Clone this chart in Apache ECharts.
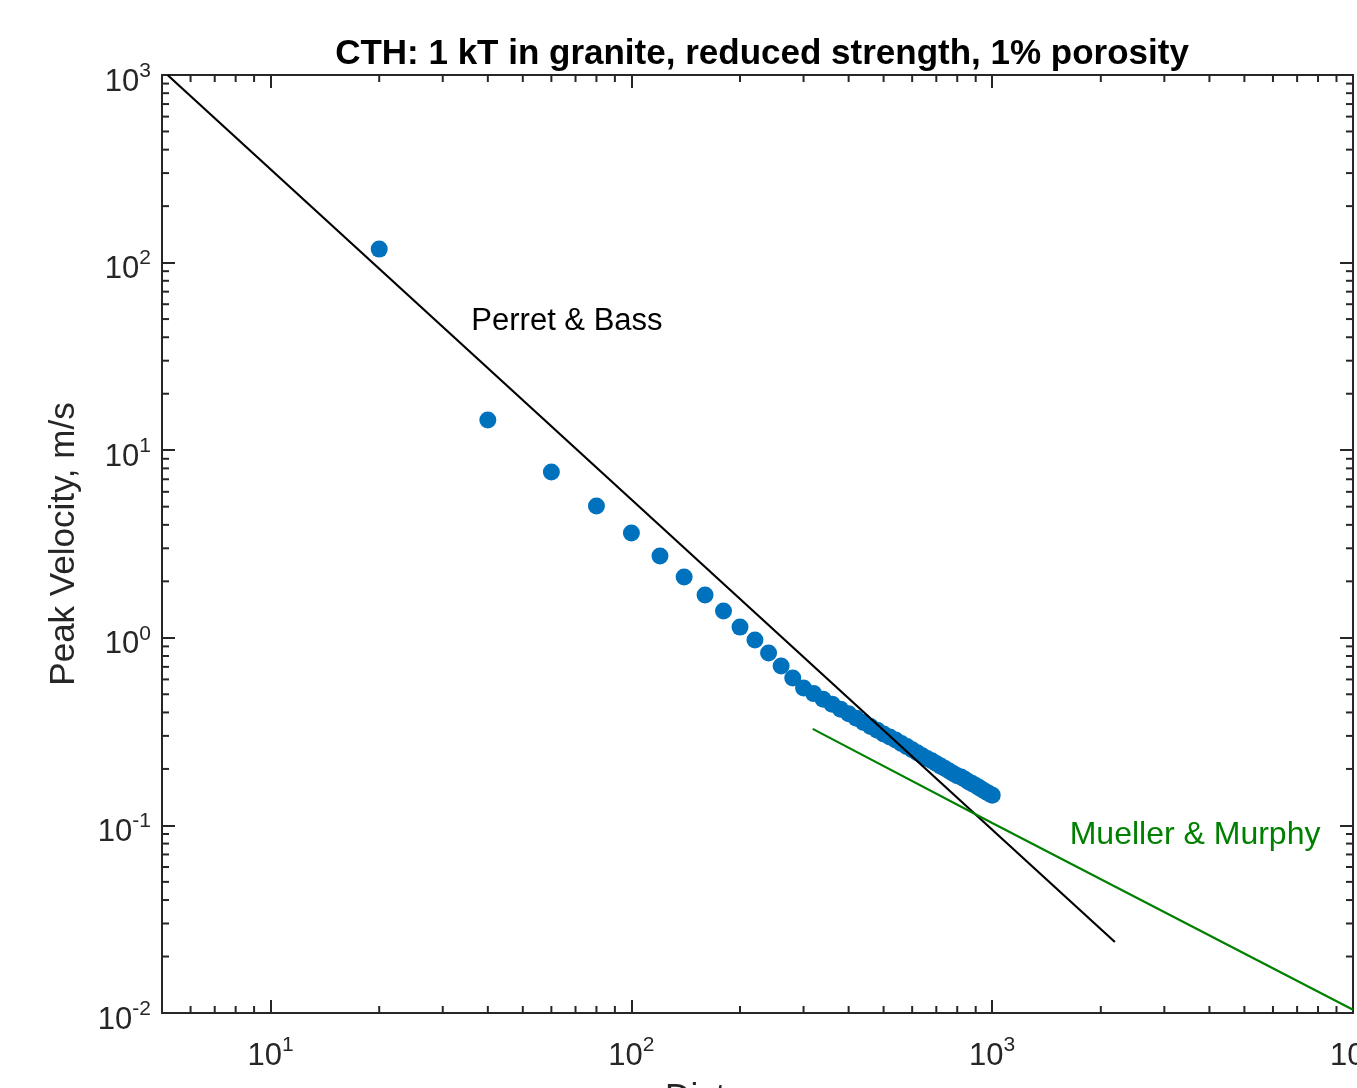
<!DOCTYPE html>
<html><head><meta charset="utf-8">
<script src="https://cdn.jsdelivr.net/npm/echarts@6/dist/echarts.min.js"></script>
<style>html,body{margin:0;padding:0;background:#fff}#c{width:1357px;height:1088px}</style>
</head><body><div id="c"></div>
<script>
// ---- data ----
const distances = [20,40,60,80,100,120,140,160,180,200,220,240,260,280,300,
  320,340,360,380,400,420,440,460,480,500,520,540,560,580,600,620,640,660,680,700,
  720,740,760,780,800,820,840,860,880,900,920,940,960,980,1000];
const peakVelocity = [118,14.5,7.65,5.04,3.62,2.73,2.11,1.69,1.39,1.14,0.973,0.830,0.708,0.611,0.540,
  0.504,0.471,0.443,0.416,0.394,0.373,0.354,0.337,0.322,0.307,0.296,0.285,0.273,0.263,0.253,0.244,0.235,0.227,0.221,0.214,
  0.207,0.201,0.195,0.189,0.184,0.181,0.176,0.171,0.167,0.163,0.159,0.155,0.151,0.148,0.145];
const perretBassX = [5.18, 2188];
const perretBassY = [1000, 0.0239];
const muellerMurphyX = [318, 1000, 10000];
const muellerMurphyY = [0.327, 0.103, 0.0104];
const xRange = [5, 10000];
const yRange = [0.01, 1000];
const minorMultipliers = [2,3,4,5,6,7,8,9];
const xDecades = [1,10,100,1000];
const yDecades = [0.01,0.1,1,10,100];
const annotationTexts = ['Perret & Bass', 'Mueller & Murphy'];
const annotationX = [36, 1640];
const annotationY = [48.5, 0.0885];
const titleText = 'CTH: 1 kT in granite, reduced strength, 1% porosity';
const yName = 'Peak Velocity, m/s';
const xName = 'Distance, m';

// ---- build ----
const FONT = '"Liberation Sans", Arial, Helvetica, sans-serif';
const AX = '#262626';
const GREEN = '#008000';
const annotationColors = ['#000000', GREEN];
const pts = distances.map((d, i) => [d, peakVelocity[i]]);
const pb = perretBassX.map((x, i) => [x, perretBassY[i]]);
const mm = muellerMurphyX.map((x, i) => [x, muellerMurphyY[i]]);
const annData = annotationX.map((x, i) => [x, annotationY[i], i]);

const xMinor = [], yMinor = [];
xDecades.forEach(d => minorMultipliers.forEach(m => { const v = m * d; if (v > xRange[0] && v < xRange[1]) xMinor.push(v); }));
yDecades.forEach(d => minorMultipliers.forEach(m => yMinor.push(+(m * d).toPrecision(3))));
const minorData = xMinor.map(v => [v, 1, 0]).concat(yMinor.map(v => [10, v, 1]));

function powLabel(v) {
  const l = Math.log10(v), e = Math.round(l);
  if (Math.abs(l - e) > 1e-6) return '';
  return '{b|10}{s|' + e + '}';
}
const rich = {
  b: {fontSize: 31, fontFamily: FONT, color: AX, padding: [14, 0, 0, 0]},
  s: {fontSize: 21, fontFamily: FONT, color: AX, padding: [8, 0, 0, 0], verticalAlign: 'top'}
};
const axLine = {show: true, lineStyle: {color: AX, width: 2}};
const axTick = {show: true, inside: true, length: 13, lineStyle: {color: AX, width: 2}};

const chart = echarts.init(document.getElementById('c'), null, {renderer: 'canvas'});
chart.setOption({
  animation: false,
  backgroundColor: '#fff',
  title: {
    text: titleText, left: 757, top: 32, textAlign: 'center',
    textStyle: {fontFamily: FONT, fontWeight: 'bold', fontSize: 35, color: '#000'}
  },
  grid: {left: 162, right: 4, top: 75, bottom: 75, containLabel: false, outerBoundsMode: 'none'},
  xAxis: [
    {type: 'log', logBase: 10, min: xRange[0], max: xRange[1], position: 'bottom',
     axisLine: axLine, axisTick: axTick, splitLine: {show: false},
     axisLabel: {formatter: powLabel, rich: rich, margin: 14, showMaxLabel: true, showMinLabel: true},
     name: xName, nameLocation: 'middle', nameGap: 68,
     nameTextStyle: {fontFamily: FONT, fontSize: 35, color: AX}},
    {type: 'log', logBase: 10, min: xRange[0], max: xRange[1], position: 'top',
     axisLine: axLine, axisTick: axTick, splitLine: {show: false}, axisLabel: {show: false}}
  ],
  yAxis: [
    {type: 'log', logBase: 10, min: yRange[0], max: yRange[1], position: 'left',
     axisLine: axLine, axisTick: axTick, splitLine: {show: false},
     axisLabel: {formatter: powLabel, rich: rich, margin: 11, showMaxLabel: true, showMinLabel: true},
     name: yName, nameLocation: 'middle', nameGap: 80, nameRotate: 90,
     nameTextStyle: {fontFamily: FONT, fontSize: 35, color: AX}},
    {type: 'log', logBase: 10, min: yRange[0], max: yRange[1], position: 'right',
     axisLine: axLine, axisTick: axTick, splitLine: {show: false}, axisLabel: {show: false}}
  ],
  series: [
    {type: 'scatter', data: pts, symbol: 'circle', symbolSize: 17,
     itemStyle: {color: '#0072BD', opacity: 1}, z: 2},
    {type: 'line', data: pb, symbol: 'none', lineStyle: {color: '#000', width: 2.2}, z: 3, clip: true},
    {type: 'line', data: mm, symbol: 'none', lineStyle: {color: GREEN, width: 2.2}, z: 3, clip: true},
    {type: 'custom', data: annData, dimensions: ['x', 'y', 'i'], encode: {x: 0, y: 1},
     clip: false, silent: true, z: 6,
     renderItem: function (params, api) {
       const i = api.value(2);
       const p = api.coord([api.value(0), api.value(1)]);
       return {type: 'text', x: p[0], y: p[1], style: {
         text: annotationTexts[i], fill: annotationColors[i],
         fontFamily: FONT, fontSize: i === 0 ? 31 : 32, align: 'left', verticalAlign: 'middle'}};
     }},
    {type: 'custom', data: minorData, dimensions: ['x', 'y', 'k'], encode: {x: 0, y: 1},
     clip: false, silent: true, z: 5,
     renderItem: function (params, api) {
       const k = api.value(2);
       const st = {stroke: AX, lineWidth: 2};
       const L = 7;
       if (k === 0) {
         const v = api.value(0);
         const b = api.coord([v, yRange[0]]), t = api.coord([v, yRange[1]]);
         return {type: 'group', children: [
           {type: 'line', shape: {x1: b[0], y1: b[1], x2: b[0], y2: b[1] - L}, style: st},
           {type: 'line', shape: {x1: t[0], y1: t[1], x2: t[0], y2: t[1] + L}, style: st}
         ]};
       } else {
         const v = api.value(1);
         const l = api.coord([xRange[0], v]), r = api.coord([xRange[1], v]);
         return {type: 'group', children: [
           {type: 'line', shape: {x1: l[0], y1: l[1], x2: l[0] + L, y2: l[1]}, style: st},
           {type: 'line', shape: {x1: r[0], y1: r[1], x2: r[0] - L, y2: r[1]}, style: st}
         ]};
       }
     }}
  ]
});
</script>
</body></html>
